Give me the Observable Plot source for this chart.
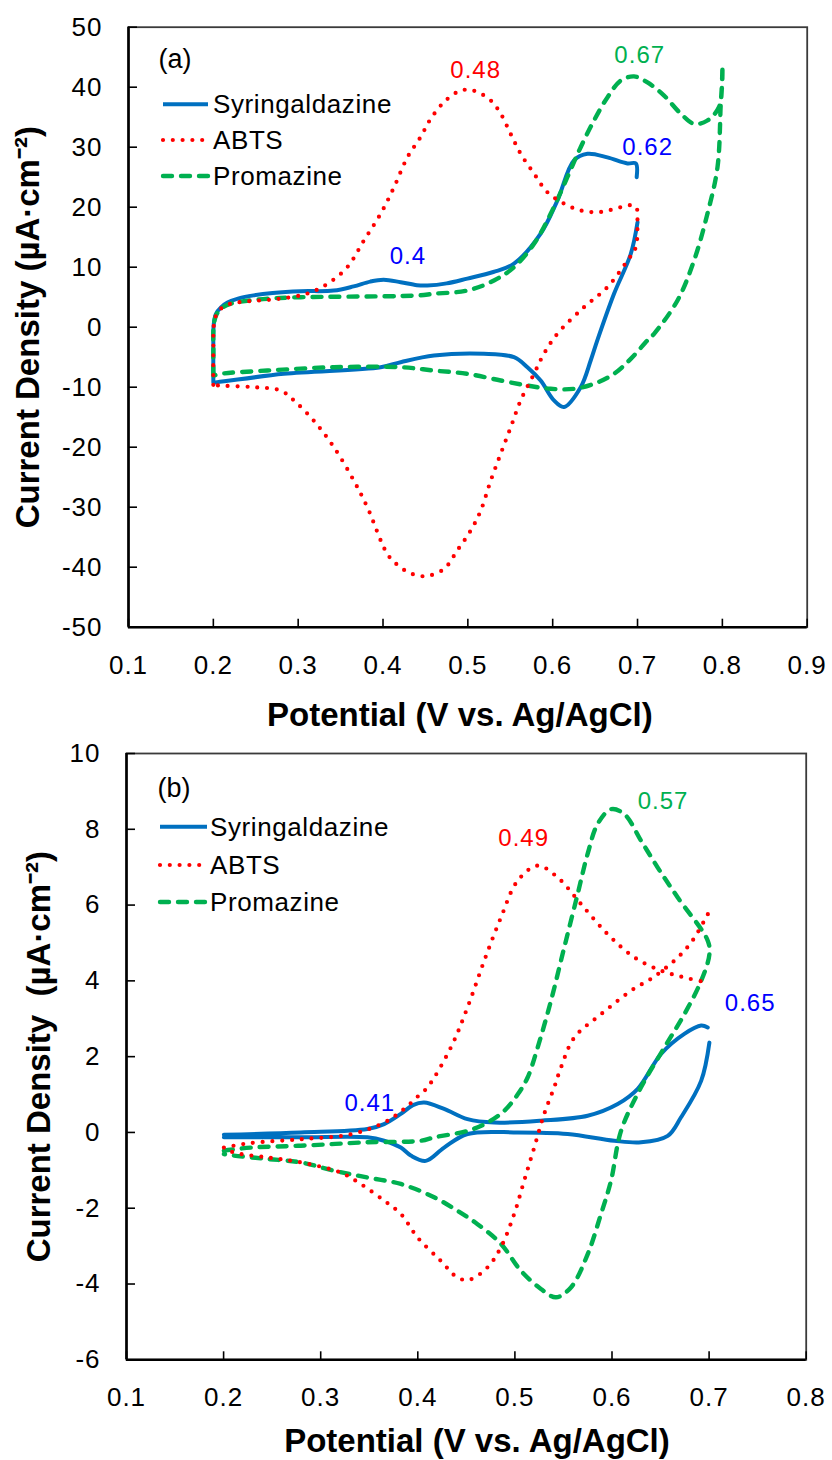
<!DOCTYPE html>
<html>
<head>
<meta charset="utf-8">
<script src="https://cdn.jsdelivr.net/npm/d3@7"></script>
<script src="https://cdn.jsdelivr.net/npm/@observablehq/plot@0.6"></script>
<style>
  html, body { margin: 0; padding: 0; background: #fff; }
  #fig { position: relative; width: 832px; height: 1460px; background: #fff; }
  #fig svg { display: block; background: #fff; }
</style>
</head>
<body>
<div id="fig"></div>
<script>
const FONT = '"Liberation Sans", Arial, Helvetica, sans-serif';

// Series
const seriesNames = ["Syringaldazine", "ABTS", "Promazine"];
const seriesColors = ["#0070C0", "#FF0000", "#00B050"];
const peakColors = ["#0000FF", "#FF0000", "#00B050"];

// Axis ticks
const xTicksA = [0.1, 0.2, 0.3, 0.4, 0.5, 0.6, 0.7, 0.8, 0.9];
const yTicksA = [-50, -40, -30, -20, -10, 0, 10, 20, 30, 40, 50];
const xTicksB = [0.1, 0.2, 0.3, 0.4, 0.5, 0.6, 0.7, 0.8];
const yTicksB = [-6, -4, -2, 0, 2, 4, 6, 8, 10];

const xTitle = "Potential (V vs. Ag/AgCl)";
const yTitleA = "Current Density (µA·cm⁻²)";
const yTitleB = "Current Density\u00a0 (µA·cm⁻²)";

// Panel (a) voltammograms: [potential V, current density µA/cm²]; null = gap in the trace
const syringaldazineA = [
  [0.2, -9.2], [0.2, -4], [0.2005, 0.5], [0.203, 2.2], [0.209, 3.3], [0.2167, 4.1], [0.23, 4.8],
  [0.2474, 5.3], [0.27, 5.7], [0.3028, 6.0], [0.3417, 6.1], [0.3653, 6.8], [0.385, 7.6], [0.4007, 7.9],
  [0.4208, 7.5], [0.44, 7.0], [0.4522, 6.95], [0.475, 7.3], [0.4994, 8.1], [0.53, 9.2], [0.5544, 10.6],
  [0.5858, 15.6], [0.6055, 21.1], [0.6251, 27.8], [0.641, 28.9], [0.6645, 28.3], [0.6881, 27.3],
  [0.698, 27.3], [0.699, 25.0],
  null,
  [0.7, 17.5], [0.692, 12.2], [0.6723, 5.57], [0.6526, -2.2], [0.6448, -5.55], [0.633, -10.0],
  [0.6133, -13.3], [0.6015, -12.2], [0.5858, -8.9], [0.5702, -6.67], [0.5544, -5.0], [0.519, -4.43],
  [0.46, -4.72], [0.4208, -5.83], [0.3972, -6.67], [0.2831, -7.77], [0.2046, -9.17], [0.2, -9.2]
];
const abtsA = [
  [0.2, -9.6], [0.2, -4], [0.2007, 0.5], [0.204, 2.2], [0.21, 3.2], [0.22, 3.9], [0.24, 4.3],
  [0.2753, 4.7], [0.3107, 5.6], [0.3343, 7.2], [0.3579, 10.0], [0.3775, 14.45], [0.3972, 18.9],
  [0.4129, 23.3], [0.4287, 28.3], [0.4443, 31.7], [0.4561, 34.7], [0.4718, 37.5], [0.4876, 39.2],
  [0.4994, 39.6], [0.5112, 39.2], [0.5269, 37.8], [0.5387, 35.6], [0.5505, 32.2], [0.5623, 28.9],
  [0.578, 25.6], [0.5937, 22.5], [0.6133, 20.6], [0.633, 19.45], [0.6566, 19.2], [0.6802, 20.0],
  [0.6959, 20.3], [0.6999, 19.45],
  [0.6999, 17.8], [0.6979, 13.3], [0.6881, 11.1], [0.6645, 6.67], [0.6369, 3.33], [0.6055, -1.1],
  [0.5897, -4.43], [0.578, -7.77], [0.5623, -12.2], [0.5505, -16.7], [0.5387, -21.1], [0.5269, -25.6],
  [0.5151, -30.6], [0.5033, -33.9], [0.4876, -37.2], [0.4718, -40.3], [0.4502, -41.5], [0.432, -41.0],
  [0.4169, -39.6], [0.4051, -37.8], [0.3815, -30.0], [0.3657, -25.6], [0.3421, -20.0], [0.3185, -15.6],
  [0.2949, -12.2], [0.2792, -10.55], [0.2477, -10.0], [0.2046, -9.7], [0.2, -9.6]
];
const promazineA = [
  [0.2, -8.05], [0.2, -4], [0.2006, 0.5], [0.204, 2.2], [0.21, 3.2], [0.22, 3.9], [0.24, 4.4],
  [0.27, 4.8], [0.3028, 5.0], [0.36, 5.1], [0.4404, 5.28], [0.46, 5.57], [0.4994, 6.12], [0.5308, 7.78],
  [0.5544, 10.0], [0.578, 13.9], [0.5976, 18.9], [0.6173, 25.0], [0.633, 30.0], [0.6487, 34.45],
  [0.6645, 38.3], [0.6802, 41.1], [0.6959, 41.8], [0.7117, 40.8], [0.7313, 38.6], [0.7509, 35.6],
  [0.7666, 33.9], [0.7824, 34.45], [0.7961, 36.7], [0.7995, 40.0], [0.8001, 43.6],
  [0.7995, 40.5], [0.7981, 37.2], [0.7943, 26.7], [0.7824, 18.9], [0.7666, 11.1], [0.7471, 4.45],
  [0.7195, -1.1], [0.7117, -2.2], [0.692, -5.27], [0.6723, -7.77], [0.6487, -9.43], [0.6251, -10.27],
  [0.5976, -10.27], [0.5702, -9.72], [0.5387, -8.88], [0.4994, -7.77], [0.46, -7.22], [0.4208, -6.67],
  [0.3421, -6.67], [0.2636, -7.22], [0.2085, -7.77], [0.2006, -8.05]
];

// Panel (b) voltammograms
const syringaldazineB = [
  [0.2003, -0.06], [0.2794, 0.0], [0.3481, 0.09], [0.3653, 0.22], [0.3825, 0.49], [0.395, 0.72],
  [0.4065, 0.79], [0.4271, 0.62], [0.4512, 0.35], [0.4787, 0.26], [0.5268, 0.31], [0.5749, 0.44],
  [0.6059, 0.75], [0.6265, 1.15], [0.6505, 2.07], [0.6745, 2.6], [0.6918, 2.82], [0.6986, 2.77],
  null,
  [0.7003, 2.37], [0.6918, 1.36], [0.6711, 0.4], [0.6574, -0.09], [0.6299, -0.26], [0.6024, -0.22],
  [0.5543, -0.04], [0.5028, 0.0], [0.4512, -0.04], [0.4271, -0.4], [0.4082, -0.75], [0.3928, -0.61],
  [0.3825, -0.4], [0.3653, -0.22], [0.3481, -0.13], [0.2794, -0.13], [0.2003, -0.13]
];
const abtsB = [
  [0.2003, -0.4], [0.2278, -0.28], [0.2794, -0.18], [0.3309, -0.05], [0.3653, 0.26], [0.385, 0.6],
  [0.40, 0.95], [0.41, 1.19], [0.434, 2.24], [0.4512, 3.3], [0.4684, 4.53], [0.4856, 5.67],
  [0.5028, 6.64], [0.5234, 7.04], [0.544, 6.73], [0.568, 6.03], [0.5956, 5.23], [0.623, 4.62],
  [0.6505, 4.27], [0.6745, 4.09], [0.6969, 3.96],
  null,
  [0.6987, 5.76], [0.6834, 5.08], [0.6707, 4.69], [0.6553, 4.34], [0.6388, 4.03], [0.623, 3.8],
  [0.5887, 3.12], [0.5611, 2.5], [0.5474, 1.71], [0.5405, 1.19], [0.5302, 0.49], [0.5199, -0.4],
  [0.5096, -1.27], [0.4993, -2.15], [0.4856, -3.03], [0.4718, -3.56], [0.4529, -3.89], [0.4409, -3.83],
  [0.4237, -3.39], [0.3997, -2.77], [0.3825, -2.15], [0.3653, -1.8], [0.3412, -1.36], [0.3206, -1.06],
  [0.2794, -0.79], [0.245, -0.66], [0.2106, -0.53], [0.2003, -0.4]
];
const promazineB = [
  [0.2003, -0.48], [0.2278, -0.4], [0.2794, -0.35], [0.3481, -0.26], [0.4031, -0.22], [0.4168, -0.13],
  [0.4512, 0.04], [0.4718, 0.26], [0.489, 0.57], [0.5028, 1.0], [0.5131, 1.45], [0.5234, 2.24],
  [0.5371, 3.47], [0.5508, 4.88], [0.5646, 6.29], [0.5749, 7.35], [0.5852, 8.14], [0.599, 8.53],
  [0.6127, 8.4], [0.6299, 7.7], [0.6471, 6.99], [0.6677, 6.2], [0.6986, 5.06],
  [0.7003, 4.7], [0.6918, 4.0], [0.6745, 3.12], [0.6539, 2.24], [0.6299, 1.19], [0.6093, 0.04],
  [0.599, -1.27], [0.5887, -2.15], [0.575, -3.21], [0.5577, -4.09], [0.5423, -4.35], [0.5268, -4.13],
  [0.5062, -3.65], [0.4856, -2.94], [0.4615, -2.42], [0.4409, -2.07], [0.4168, -1.71], [0.3825, -1.36],
  [0.3481, -1.19], [0.3137, -1.01], [0.2794, -0.79], [0.245, -0.7], [0.2106, -0.61], [0.2003, -0.57]
];

// Peak potential labels: text, anchor [V, µA/cm²], series index
const peakTextA = ["0.4", "0.48", "0.67", "0.62"];
const peakAtA = [[0.4294, 11.8], [0.5092, 42.8], [0.7026, 45.3], [0.712, 29.95]];
const peakSeriesA = [0, 1, 2, 0];
const peakTextB = ["0.41", "0.49", "0.57", "0.65"];
const peakAtB = [[0.3505, 0.78], [0.509, 7.75], [0.6526, 8.75], [0.7423, 3.4]];
const peakSeriesB = [0, 1, 2, 0];

// Line styles per series
const lineStyles = [
  {stroke: seriesColors[0], strokeWidth: 4, strokeLinecap: "round", strokeLinejoin: "round"},
  {stroke: seriesColors[1], strokeWidth: 4.2, strokeDasharray: "0 9.8", strokeLinecap: "round"},
  {stroke: seriesColors[2], strokeWidth: 4.4, strokeDasharray: "9 9", strokeLinecap: "round"}
];
const drawOrder = [0, 2, 1];

function panel(cfg) {
  const {curves, xDomain, yDomain, xTicks, yTicks, tag, peakText, peakAt, peakSeries,
         yTitle, height, margin, xTitleDx, xTitleDy, yTitleDx, tagDx, tagDy, legend} = cfg;
  const peakIdx = d3.range(peakText.length);
  const chart = Plot.plot({
    width: 832,
    height,
    marginTop: margin[0], marginRight: margin[1], marginBottom: margin[2], marginLeft: margin[3],
    style: {fontFamily: FONT, background: "#fff", color: "#000"},
    x: {domain: xDomain},
    y: {domain: yDomain},
    color: {type: "identity"},
    marks: [
      Plot.frame({stroke: "#3a3a3a", strokeWidth: 1.8}),
      ...drawOrder.map(i => Plot.line(curves[i], {
        x: d => d ? d[0] : NaN,
        y: d => d ? d[1] : NaN,
        curve: "catmull-rom",
        ...lineStyles[i]
      })),
      Plot.ruleX([xDomain[0]], {stroke: "#000", strokeWidth: 2.6}),
      Plot.ruleY([yDomain[0]], {stroke: "#000", strokeWidth: 2.6}),
      Plot.axisX(xTicks, {anchor: "bottom", tickSize: -8, tickPadding: 36, tickFormat: d3.format(".1f"),
        fontSize: 26, label: null, strokeWidth: 1.6}),
      Plot.axisY(yTicks, {anchor: "left", tickSize: -9, tickPadding: 35, tickFormat: d => String(d),
        fontSize: 26, label: null, strokeWidth: 1.6}),
      Plot.text([xTitle], {frameAnchor: "bottom", dx: xTitleDx, dy: xTitleDy, lineAnchor: "middle",
        fontSize: 33, fontWeight: "bold", fill: "#000"}),
      Plot.text([yTitle], {frameAnchor: "left", dx: yTitleDx, rotate: -90, lineAnchor: "middle",
        textAnchor: "middle", fontSize: 33, fontWeight: "bold", fill: "#000"}),
      Plot.text([tag], {frameAnchor: "top-left", dx: tagDx, dy: tagDy, textAnchor: "start",
        lineAnchor: "middle", fontSize: 27, fill: "#000"}),
      Plot.text(peakIdx, {x: i => peakAt[i][0], y: i => peakAt[i][1], text: i => peakText[i],
        fill: i => peakColors[peakSeries[i]], fontSize: 24, lineAnchor: "middle"})
    ]
  });

  // Slightly open letter spacing on tick and peak labels
  const svg = d3.select(chart);
  svg.selectAll("g[aria-label='x-axis tick label'] text, g[aria-label='y-axis tick label'] text")
    .style("letter-spacing", "1px");
  svg.selectAll("text").filter(function () { return peakText.includes(this.textContent); })
    .style("letter-spacing", "1px");

  // In-frame legend
  const left = chart.scale("x").range[0];
  const top = chart.scale("y").range[1];
  const g = svg.append("g").attr("class", "legend")
    .attr("transform", `translate(${left},${top})`);
  seriesNames.forEach((name, i) => {
    const y = legend.rows[i];
    const s = lineStyles[i];
    g.append("line")
      .attr("x1", legend.x0).attr("x2", legend.x1).attr("y1", y).attr("y2", y)
      .attr("stroke", s.stroke).attr("stroke-width", s.strokeWidth)
      .attr("stroke-dasharray", s.strokeDasharray || null)
      .attr("stroke-linecap", i === 0 ? "butt" : s.strokeLinecap);
    g.append("text")
      .attr("x", legend.tx).attr("y", y).attr("dy", "0.35em")
      .attr("text-anchor", "start")
      .attr("font-family", FONT).attr("font-size", 26).attr("fill", "#000")
      .style("letter-spacing", "0.6px")
      .text(name);
  });
  return chart;
}

const fig = document.getElementById("fig");

fig.appendChild(panel({
  curves: [syringaldazineA, abtsA, promazineA],
  xDomain: [0.1, 0.9], yDomain: [-50, 50],
  xTicks: xTicksA, yTicks: yTicksA,
  tag: "(a)", peakText: peakTextA, peakAt: peakAtA, peakSeries: peakSeriesA,
  yTitle: yTitleA,
  height: 735,
  margin: [26.7, 25.3, 108.3, 128],
  xTitleDx: -8, xTitleDy: 88.5, yTitleDx: -100.5,
  tagDx: 30, tagDy: 32,
  legend: {x0: 35, x1: 80, tx: 85, rows: [77.6, 113.3, 149.3]}
}));

fig.appendChild(panel({
  curves: [syringaldazineB, abtsB, promazineB],
  xDomain: [0.1, 0.8], yDomain: [-6, 10],
  xTicks: xTicksB, yTicks: yTicksB,
  tag: "(b)", peakText: peakTextB, peakAt: peakAtB, peakSeries: peakSeriesB,
  yTitle: yTitleB,
  height: 725,
  margin: [18, 26.3, 100.7, 126],
  xTitleDx: 10.6, xTitleDy: 81.7, yTitleDx: -87,
  tagDx: 31, tagDy: 35,
  legend: {x0: 34, x1: 81, tx: 84, rows: [73.7, 112, 149]}
}));
</script>
</body>
</html>
